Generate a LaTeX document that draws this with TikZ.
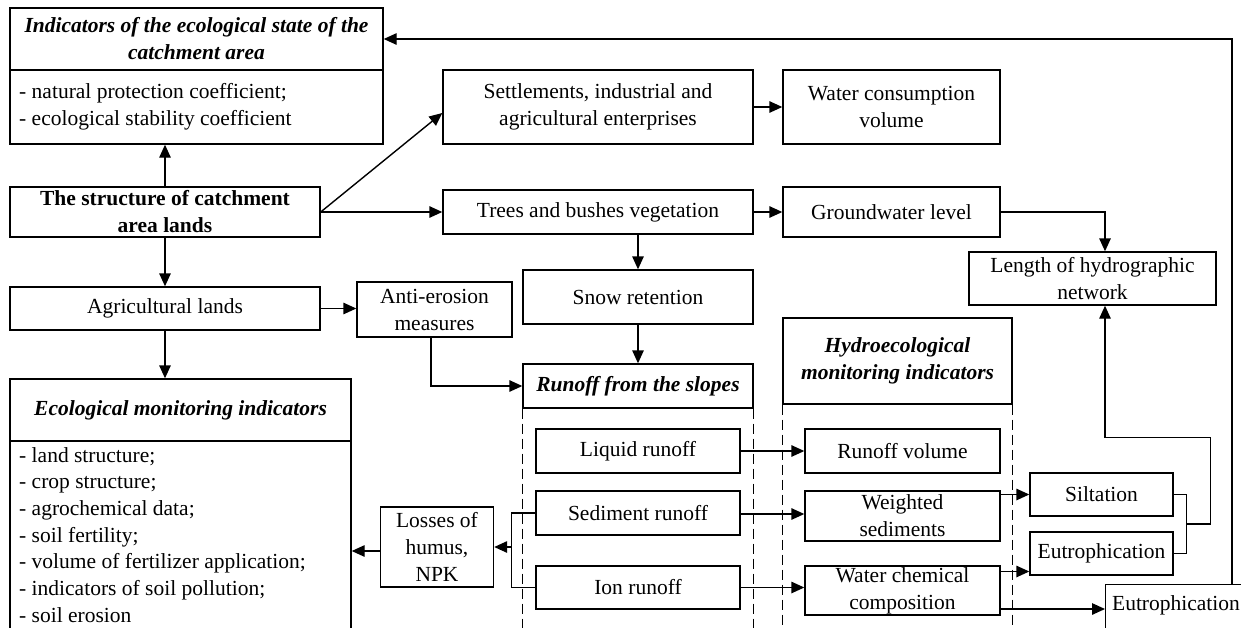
\documentclass[tikz,border=0pt]{standalone}
\usepackage{fontspec}
\setmainfont{Liberation Serif}
\usetikzlibrary{arrows.meta,calc}
\newcommand\myfs{\fontsize{21.5}{27}\selectfont}
\newcommand\myfsl{\fontsize{21.5}{26.7}\selectfont}
\begin{document}
\begin{tikzpicture}[x=1pt,y=-1pt,
  box/.style={draw,line width=1.4pt,inner sep=1pt,align=center,font=\myfs},
  ttl/.style={box,font=\myfs\bfseries\itshape},
  txt/.style={inner sep=0pt,align=left,font=\myfs},
  ln/.style={line width=1.4pt},
  arr/.style={line width=1.4pt,-{Triangle[length=13pt,width=11.5pt]}},
  dsh/.style={line width=1.2pt,dash pattern=on 10pt off 5pt}]
\useasboundingbox (0,0) rectangle (1241,627);
\clip (0,0) rectangle (1241,627);
% left column
\node[ttl,minimum width=373,minimum height=62] (indT) at (196.5,39) {Indicators of the ecological state of the\\catchment area};
\node[box,minimum width=373,minimum height=74] (indB) at (196.5,107) {};
\node[txt,anchor=west] (indL) at (19,107) {- natural protection coefficient;\\- ecological stability coefficient};
\node[box,font=\myfs\bfseries,minimum width=310,minimum height=50] (struct) at (165,212) {The structure of catchment\\area lands};
\node[box,minimum width=310,minimum height=43] (agri) at (165,308.5) {Agricultural lands};
\node[ttl,minimum width=341,minimum height=62] (ecoT) at (180.5,410) {Ecological monitoring indicators};
\node[box,minimum width=341,minimum height=220,anchor=north] (ecoB) at (180.5,441) {};
\node[txt,font=\myfsl,anchor=north west] (ecoL) at (19,447) {- land structure;\\- crop structure;\\- agrochemical data;\\- soil fertility;\\- volume of fertilizer application;\\- indicators of soil pollution;\\- soil erosion};
% middle
\node[box,minimum width=310,minimum height=74] (settl) at (598,107) {Settlements, industrial and\\agricultural enterprises};
\node[box,minimum width=217,minimum height=74] (water) at (891.5,107) {Water consumption\\volume};
\node[box,minimum width=310,minimum height=44] (trees) at (598,212) {Trees and bushes vegetation};
\node[box,minimum width=217,minimum height=50] (ground) at (891.5,212) {Groundwater level};
\node[box,minimum width=247,minimum height=53] (length) at (1092.5,278.5) {Length of hydrographic\\network};
\node[box,minimum width=155,minimum height=55] (anti) at (434.5,309.5) {Anti-erosion\\measures};
\node[box,minimum width=230,minimum height=54] (snow) at (638,297) {Snow retention};
\node[ttl,minimum width=230,minimum height=44] (runoff) at (638,386) {Runoff from the slopes};
\node[box,minimum width=204,minimum height=44] (liquid) at (638,451) {Liquid runoff};
\node[box,minimum width=204,minimum height=44] (sed) at (638,513) {Sediment runoff};
\node[box,minimum width=204,minimum height=43] (ion) at (638,587.5) {Ion runoff};
\node[box,minimum width=113,minimum height=80] (loss) at (437,547) {Losses of\\humus,\\NPK};
% hydro
\node[ttl,minimum width=229,minimum height=86] (hydro) at (897.5,361) {Hydroecological\\monitoring indicators};
\node[box,minimum width=195,minimum height=44] (rvol) at (902.5,451) {Runoff volume};
\node[box,minimum width=195,minimum height=50] (wsed) at (902.5,516) {Weighted\\sediments};
\node[box,minimum width=195,minimum height=49] (wcc) at (902.5,590.5) {Water chemical\\composition};
\node[box,minimum width=143,minimum height=43] (silt) at (1101.5,494.5) {Siltation};
\node[box,minimum width=143,minimum height=43] (eutA) at (1101.5,553.5) {Eutrophication};
\node[box,minimum width=145,minimum height=70,anchor=north west] (eutB) at (1105,584) {};
\node[txt] (eutBL) at (1176,605) {Eutrophication};
% dashed frames
\draw[dsh] (runoff.south west) -- ++(0,240);
\draw[dsh] (runoff.south east) -- ++(0,240);
\draw[dsh] (hydro.south west) -- ++(0,240);
\draw[dsh] (hydro.south east) -- ++(0,240);
% connectors
\draw[arr] (struct.north) -- (struct.north |- indB.south);
\draw[arr] (struct.east) -- ([yshift=-6]settl.west);
\draw[arr] (struct.east) -- (trees.west);
\draw[arr] (settl.east) -- (water.west);
\draw[arr] (trees.east) -- (ground.west);
\draw[arr] (ground.east) -| ([xshift=12.5]length.north);
\draw[arr] (trees.south -| snow.north) -- (snow.north);
\draw[arr] (snow.south) -- (runoff.north);
\draw[arr] (struct.south) -- (agri.north);
\draw[arr] (agri.east) -- (agri.east -| anti.west);
\draw[arr] (agri.south) -- (agri.south |- ecoT.north);
\draw[arr] ([xshift=-3.5]anti.south) |- (runoff.west);
\draw[arr] (liquid.east) -- (rvol.west);
\draw[arr] ([yshift=-1]sed.east) -- ([yshift=-1]sed.east -| wsed.west);
\draw[arr] (ion.east) -- (ion.east -| wcc.west);
\draw[ln] (sed.west) -- ++(-24,0) coordinate (jL) |- (ion.west);
\draw[arr] (loss.east -| jL) -- (loss.east);
\draw[arr] ([yshift=-4]loss.west) -- ([yshift=-4]loss.west -| ecoB.east);
\draw[arr] (silt.west -| wsed.east) -- (silt.west);
\draw[arr] ([yshift=-18]eutA.west -| wcc.east) -- ([yshift=-18]eutA.west);
\draw[arr] ([yshift=-18.5]wcc.east) -- ([yshift=-18.5]wcc.east -| eutB.west);
\draw[ln] (silt.east) -- ++(13,0) coordinate (jR) |- (eutA.east);
\coordinate (jM) at ($(jR)+(0,29.5)$);
\draw[arr] (jM) -- ++(24,0) |- ($(length.south)+(12.5,132)$) -- ([xshift=12.5]length.south);
\draw[arr] ([xshift=127]eutB.north west) |- (indT.east);
\end{tikzpicture}
\end{document}
